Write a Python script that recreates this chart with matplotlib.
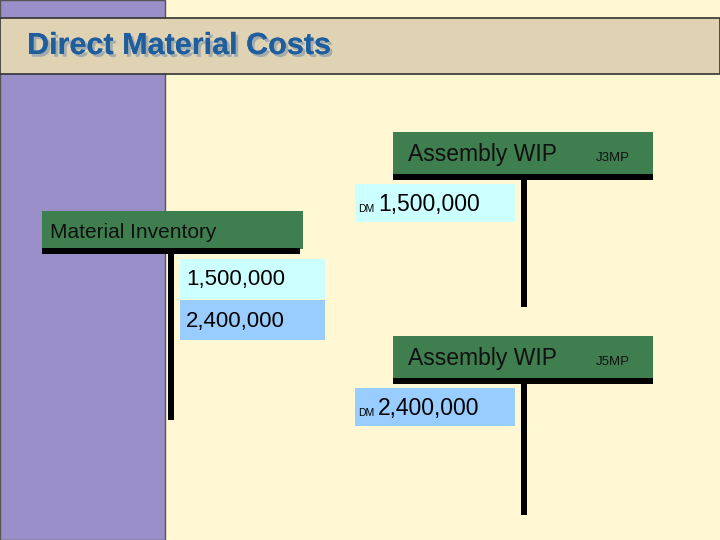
import matplotlib
matplotlib.use("Agg")
import matplotlib.pyplot as plt
import matplotlib.patheffects as pe
from matplotlib.patches import Rectangle

plt.rcParams['font.family'] = ['Liberation Sans', 'DejaVu Sans']

title = "Direct Material Costs"
accounts = ["Material Inventory", "Assembly WIP", "Assembly WIP"]
jobs = ["", "J3MP", "J5MP"]
amounts = ["1,500,000", "2,400,000"]

fig = plt.figure(figsize=(7.2, 5.4), dpi=100)
ax = fig.add_axes([0, 0, 1, 1])
ax.set_xlim(0, 720); ax.set_ylim(540, 0); ax.axis("off")
fig.patch.set_facecolor("#FFF8D2")

def rect(x0, y0, x1, y1, fc, ec="none", lw=0):
    ax.add_patch(Rectangle((x0, y0), x1 - x0, y1 - y0, fc=fc, ec=ec, lw=lw))

rect(0, 0, 720, 540, "#FFF8D2")
rect(0, 0, 165, 540, "#9A8FC8", "#555555", 1)
rect(0, 18, 720, 74, "#DFD3B4", "#333333", 1.2)
ax.text(27, 46, title, fontsize=22, fontweight="bold", color="#1F5E9E", va="center",
        path_effects=[pe.withSimplePatchShadow(offset=(2, -2), shadow_rgbFace="#8a9aa8", alpha=0.7), pe.Normal()])

green = "#3F7F4F"
# Material Inventory
rect(42, 211, 303, 249, green)
rect(42, 248, 300, 254, "black")
rect(168, 251, 174, 420, "black")
ax.text(50, 233, accounts[0], fontsize=15, color="#101010", va="center")
rect(180, 259, 325, 299, "#CCFFFF")
ax.text(186, 279, amounts[0], fontsize=16, va="center")
rect(180, 300, 325, 340, "#99CCFF")
ax.text(186, 321, amounts[1], fontsize=16, va="center")

# Assembly WIP accounts
for (y0, job, amt, col) in [(132, jobs[1], amounts[0], "#CCFFFF"), (336, jobs[2], amounts[1], "#99CCFF")]:
    rect(393, y0, 653, y0 + 44, green)
    rect(393, y0 + 42, 653, y0 + 48, "black")
    rect(521, y0 + 46, 527, y0 + 175 if y0 == 132 else 515, "black")
    ax.text(408, y0 + 22, accounts[1], fontsize=16.5, color="#101010", va="center")
    ax.text(596, y0 + 26, job, fontsize=9.5, color="#101010", va="center")
    by = y0 + 52
    rect(355, by, 515, by + 38, col)
    ax.text(358, by + 25, "DM", fontsize=7.5, va="center")
    ax.text(378, by + 20, amt, fontsize=16.5, va="center")

fig.savefig("out.png", dpi=100)
